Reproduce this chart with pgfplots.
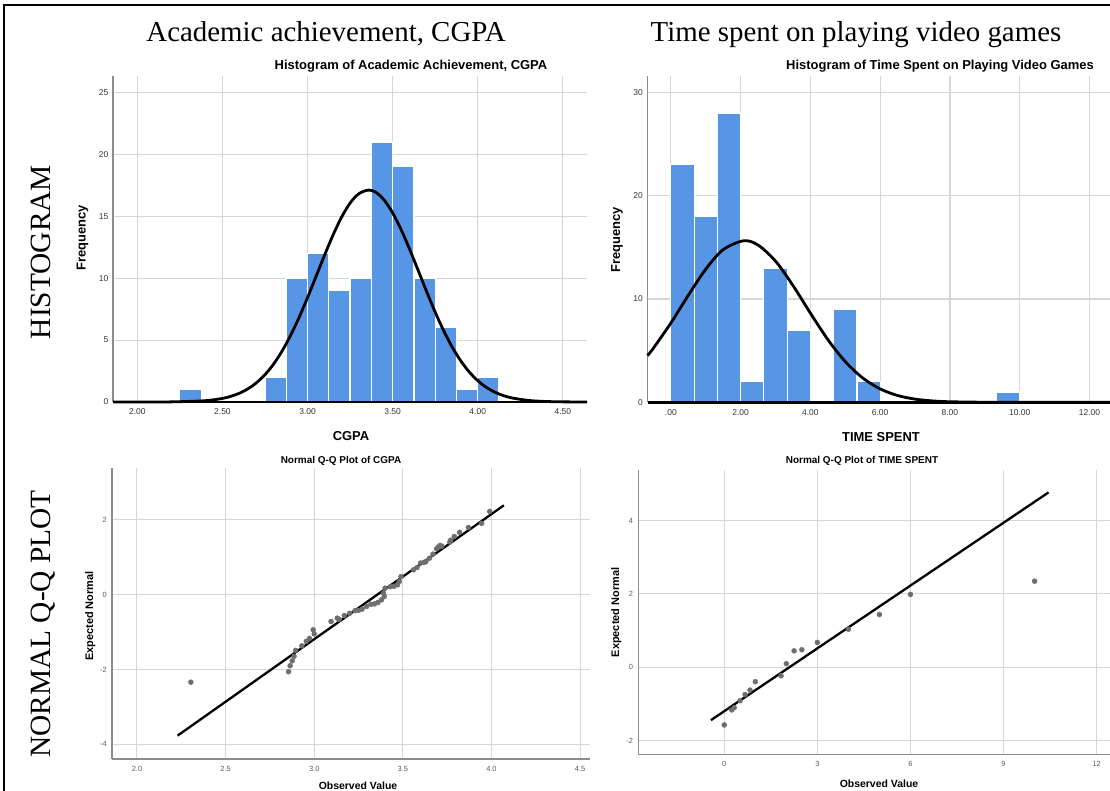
\documentclass[border=0pt]{standalone}
\usepackage{pgfplots}
\pgfplotsset{compat=1.18}
\usepackage{fontspec}
\setmainfont{Liberation Sans}
\newfontfamily\tnr{Liberation Serif}
\definecolor{spssblue}{RGB}{87,150,229}
\definecolor{gridgray}{RGB}{214,214,214}
\definecolor{axisgray}{RGB}{140,140,140}
\definecolor{tickgray}{RGB}{51,51,51}
\definecolor{qqtick}{RGB}{90,90,90}
\definecolor{markgray}{RGB}{110,110,110}
\pgfplotsset{
  base/.style={
    scale only axis,
    axis x line*=bottom, axis y line*=left,
    axis line style={-, draw=axisgray, line width=1.2bp},
    grid=major,
    major tick length=0pt,
    /pgf/number format/assume math mode=true,
    clip=false,
  },
  hist/.style={
    base,
    x axis line style={draw=black, line width=2.5bp},
    major grid style={draw=gridgray, line width=1.2bp},
    tick label style={font=\fontsize{8.5}{9}\selectfont, text=tickgray},
    xticklabel style={anchor=base, yshift=-13bp},
    yticklabel style={anchor=east, inner sep=0pt, xshift=-4.5bp},
  },
  qq/.style={
    base,
    major grid style={draw=gridgray, line width=1.0bp},
    tick label style={font=\fontsize{7.5}{8}\selectfont, text=qqtick},
    xticklabel style={anchor=base, yshift=-12bp},
    yticklabel style={anchor=east, inner sep=0pt, xshift=-5bp},
  }
}
\begin{document}
\begin{tikzpicture}[x=1bp,y=1bp]
% ---------- top-left histogram ----------
\begin{axis}[hist, at={(113bp,389bp)}, anchor=south west,
  width=474bp, height=326.3bp,
  xmin=1.857, xmax=4.642, ymin=0, ymax=26.36,
  xtick={2,2.5,3,3.5,4,4.5}, xticklabels={2.00,2.50,3.00,3.50,4.00,4.50},
  ytick={0,5,10,15,20,25}, yticklabels={0,5,10,15,20,25}]
\addplot[ybar interval, fill=spssblue, draw=white, line width=1.2bp] coordinates {(2.25,1) (2.375,1)};
\addplot[ybar interval, fill=spssblue, draw=white, line width=1.2bp] coordinates {
(2.75,2) (2.875,10) (3.0,12) (3.125,9) (3.25,10) (3.375,21) (3.5,19) (3.625,10) (3.75,6) (3.875,1) (4.0,2) (4.125,2)};
\addplot[black, line width=2.5bp] coordinates {(1.857,0) (4.642,0)};
\addplot[black, line width=2.8bp, smooth] coordinates {
(1.857,0.0001) (2.0,0.0006) (2.2,0.0101) (2.4,0.1056) (2.5,0.2895) (2.55,0.4597) (2.6,0.7093) (2.65,1.0656)
(2.7,1.556) (2.75,2.210) (2.8,3.054) (2.85,4.105) (2.9,5.367) (2.95,6.821) (3.0,8.433) (3.05,10.142)
(3.1,11.862) (3.15,13.49) (3.2,14.93) (3.25,16.07) (3.3,16.81) (3.357,17.12) (3.4,16.95) (3.45,16.32)
(3.5,15.28) (3.55,13.92) (3.6,12.33) (3.65,10.63) (3.7,8.906) (3.75,7.259) (3.8,5.754) (3.85,4.437)
(3.9,3.328) (3.95,2.428) (4.0,1.722) (4.05,1.188) (4.1,0.797) (4.15,0.5205) (4.2,0.330) (4.3,0.1225)
(4.4,0.0406) (4.5,0.0121) (4.642,0.001)};
\end{axis}
% ---------- top-right histogram ----------
\begin{axis}[hist, at={(647.5bp,388.7bp)}, anchor=south west,
  width=462.5bp, height=326.3bp,
  xmin=-0.67, xmax=12.59, ymin=0, ymax=31.59,
  xtick={0,2,4,6,8,10,12}, xticklabels={.00,2.00,4.00,6.00,8.00,10.00,12.00},
  ytick={0,10,20,30}, yticklabels={0,10,20,30}]
\addplot[ybar interval, fill=spssblue, draw=white, line width=1.2bp] coordinates {
(0,23) (0.6667,18) (1.3333,28) (2.0,2) (2.6667,13) (3.3333,7) (4.0,7)};
\addplot[ybar interval, fill=spssblue, draw=white, line width=1.2bp] coordinates {
(4.6667,9) (5.3333,2) (6.0,2)};
\addplot[ybar interval, fill=spssblue, draw=white, line width=1.2bp] coordinates {
(9.3333,1) (10.0,1)};
\addplot[black, line width=2.5bp] coordinates {(-0.67,0) (12.59,0)};
\addplot[black, line width=2.8bp, smooth] coordinates {
(-0.67,4.52) (-0.5,5.244) (0,7.678) (0.5,10.36) (1.0,12.89) (1.5,14.78) (2.09,15.64) (2.5,15.22)
(3.0,13.67) (3.5,11.31) (4.0,8.633) (4.5,6.073) (5.0,3.937) (5.5,2.354) (6.0,1.296) (6.5,0.658)
(7.0,0.308) (7.5,0.133) (8.0,0.053) (9.0,0.0066) (10.0,0.0006) (12.59,0)};
\end{axis}
% ---------- bottom-left Q-Q ----------
\begin{axis}[qq, at={(112bp,32bp)}, anchor=south west,
  width=478bp, height=290.7bp,
  xmin=1.859, xmax=4.556, ymin=-4.39, ymax=3.37,
  xtick={2,2.5,3,3.5,4,4.5}, xticklabels={2.0,2.5,3.0,3.5,4.0,4.5},
  ytick={-4,-2,0,2}, yticklabels={-4,-2,0,2}]
\addplot[only marks, mark=*, mark size=2.5bp, color=markgray] coordinates {
(2.304,-2.34) (2.855,-2.06) (2.864,-1.90) (2.876,-1.77) (2.886,-1.65) (2.895,-1.49) (2.93,-1.37)
(2.955,-1.25) (2.973,-1.17) (3.00,-1.05) (2.994,-0.94) (3.095,-0.72) (3.13,-0.63) (3.14,-0.66) (3.17,-0.56)
(3.20,-0.50) (3.23,-0.43) (3.25,-0.42) (3.27,-0.39) (3.295,-0.32) (3.32,-0.26) (3.34,-0.25) (3.36,-0.21)
(3.38,-0.14) (3.395,-0.05) (3.39,0.04) (3.40,0.17) (3.43,0.21) (3.45,0.22) (3.47,0.26) (3.48,0.35)
(3.49,0.48) (3.56,0.66) (3.58,0.72) (3.60,0.84) (3.62,0.86) (3.63,0.88) (3.65,0.97) (3.67,1.08)
(3.69,1.22) (3.70,1.27) (3.71,1.31) (3.72,1.29) (3.765,1.40) (3.77,1.45) (3.79,1.55) (3.82,1.66)
(3.87,1.79) (3.945,1.90) (3.99,2.22)};
\addplot[black, line width=2.3bp] coordinates {(2.229,-3.766) (4.07,2.381)};
\end{axis}
% ---------- bottom-right Q-Q ----------
\begin{axis}[qq, at={(638.3bp,36.7bp)}, anchor=south west,
  width=471.7bp, height=284.3bp,
  xmin=-2.77, xmax=12.43, ymin=-2.37, ymax=5.38,
  xtick={0,3,6,9,12}, xticklabels={0,3,6,9,12},
  ytick={-2,0,2,4}, yticklabels={-2,0,2,4}]
\addplot[only marks, mark=*, mark size=2.5bp, color=markgray] coordinates {
(0,-1.57) (0.24,-1.16) (0.32,-1.10) (0.51,-0.91) (0.67,-0.74) (0.83,-0.62) (1.0,-0.39) (1.83,-0.23)
(2.0,0.10) (2.25,0.45) (2.5,0.48) (3.0,0.68) (4.0,1.04) (5.0,1.44) (6.0,1.99) (10.0,2.35)};
\addplot[black, line width=2.3bp] coordinates {(-0.43,-1.44) (10.45,4.77)};
\end{axis}
% ---------- texts ----------
\node[anchor=base, font=\tnr\fontsize{29}{30}\selectfont] at (326bp,749bp) {Academic achievement, CGPA};
\node[anchor=base, font=\tnr\fontsize{29}{30}\selectfont] at (856bp,749bp) {Time spent on playing video games};
\node[rotate=90, anchor=base, font=\tnr\fontsize{29.5}{30}\selectfont] at (50bp,539bp) {HISTOGRAM};
\node[rotate=90, anchor=base, font=\tnr\fontsize{29.5}{30}\selectfont] at (50bp,167bp) {NORMAL Q-Q PLOT};
\node[anchor=base, font=\bfseries\fontsize{13}{14}\selectfont] at (411bp,721bp) {Histogram of Academic Achievement, CGPA};
\node[anchor=base, font=\bfseries\fontsize{13}{14}\selectfont] at (940bp,721bp) {Histogram of Time Spent on Playing Video Games};
\node[anchor=base, font=\bfseries\fontsize{10}{11}\selectfont] at (341bp,327bp) {Normal Q-Q Plot of CGPA};
\node[anchor=base, font=\bfseries\fontsize{10}{11}\selectfont] at (862bp,327bp) {Normal Q-Q Plot of TIME SPENT};
\node[rotate=90, anchor=base, font=\bfseries\fontsize{13}{14}\selectfont] at (85.5bp,553bp) {Frequency};
\node[rotate=90, anchor=base, font=\bfseries\fontsize{13}{14}\selectfont] at (620bp,551bp) {Frequency};
\node[anchor=base, font=\bfseries\fontsize{13}{14}\selectfont] at (351bp,350.3bp) {CGPA};
\node[anchor=base, font=\bfseries\fontsize{13}{14}\selectfont] at (881bp,349.5bp) {TIME SPENT};
\node[rotate=90, anchor=base, font=\bfseries\fontsize{11}{12}\selectfont] at (93bp,175bp) {Expected Normal};
\node[rotate=90, anchor=base, font=\bfseries\fontsize{11}{12}\selectfont] at (619bp,178.5bp) {Expected Normal};
\node[anchor=base, font=\bfseries\fontsize{10.5}{11}\selectfont] at (358bp,1.5bp) {Observed Value};
\node[anchor=base, font=\bfseries\fontsize{10.5}{11}\selectfont] at (879bp,4bp) {Observed Value};
% frame
\draw[line width=2bp, black] (4bp,-5bp) -- (4bp,786bp) -- (1115bp,786bp);
\pgfresetboundingbox
\useasboundingbox (0bp,0bp) rectangle (1110bp,791bp);
\end{tikzpicture}
\end{document}
